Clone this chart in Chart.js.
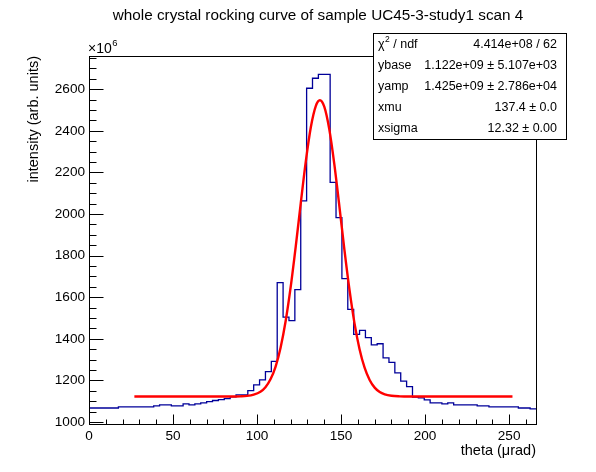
<!DOCTYPE html>
<html>
<head>
<meta charset="utf-8">
<script src="https://cdn.jsdelivr.net/npm/chart.js@4.4.1/dist/chart.umd.min.js"></script>
<style>
html,body{margin:0;padding:0;background:#ffffff;}
canvas{display:block;}
</style>
</head>
<body>
<canvas id="c" width="596" height="472"></canvas>
<script>
// ---- data (intensity in units of 1e6) ----
const binLowEdges = [
  0, 3.5, 7, 10.5, 14, 17.5, 21, 24.5, 28, 31.5,
  35, 38.5, 42, 45.5, 49, 52.5, 56, 59.5, 63, 66.5,
  70, 73.5, 77, 80.5, 84, 87.5, 91, 94.5, 98, 101.5,
  105, 108.5, 112, 115.5, 119, 122.5, 126, 129.5, 133, 136.5,
  140, 143.5, 147, 150.5, 154, 157.5, 161, 164.5, 168, 171.5,
  175, 178.5, 182, 185.5, 189, 192.5, 196, 199.5, 203, 206.5,
  210, 213.5, 217, 220.5, 224, 227.5, 231, 234.5, 238, 241.5,
  245, 248.5, 252, 255.5, 259, 262.5
];
const histUpperEdge = 266;
const binValues = [
  1067, 1067, 1067, 1067, 1067, 1072, 1072, 1072, 1072, 1072,
  1072, 1077, 1082, 1082, 1077, 1077, 1087, 1082, 1087, 1092,
  1098, 1103, 1107, 1112, 1120, 1130, 1130, 1151, 1178, 1202,
  1242, 1291, 1670, 1504, 1487, 1636, 2063, 2605, 2653, 2672,
  2672, 2152, 1983, 1689, 1541, 1421, 1440, 1405, 1371, 1376,
  1308, 1286, 1236, 1196, 1170, 1119, 1116, 1106, 1092, 1092,
  1087, 1092, 1082, 1082, 1082, 1082, 1077, 1077, 1072, 1072,
  1072, 1072, 1072, 1067, 1067, 1063
];
const fitX = [27, 80, 85, 90, 94, 98, 102, 105, 108, 111, 114, 117, 120, 123, 126, 129, 132, 135, 137.4,
              140, 143, 146, 149, 152, 155, 158, 161, 164, 167, 170, 173, 176, 180, 185, 190, 252];
const fitY = [1122, 1122, 1122, 1123, 1125, 1131, 1145, 1167, 1205, 1265, 1357, 1484, 1648, 1842, 2051, 2252, 2417, 2520, 2547,
              2516, 2407, 2239, 2037, 1828, 1636, 1474, 1350, 1261, 1202, 1165, 1144, 1133, 1126, 1123, 1122, 1122];
const xTickLabels = [0, 50, 100, 150, 200, 250];
const yTickLabels = [1000, 1200, 1400, 1600, 1800, 2000, 2200, 2400, 2600];
const statsLabels = ['χ2 / ndf', 'ybase', 'yamp', 'xmu', 'xsigma'];
const statsValues = ['4.414e+08 / 62', '1.122e+09 ± 5.107e+03', '1.425e+09 ± 2.786e+04', '137.4 ± 0.0', '12.32 ± 0.00'];
const titleText = 'whole crystal rocking curve of sample UC45-3-study1 scan 4';
const xTitle = 'theta (μrad)';
const yTitle = 'intensity (arb. units)';

const FONT = '"Liberation Sans", Arial, Helvetica, sans-serif';
Chart.defaults.font.family = FONT;
Chart.defaults.color = '#000';

const histData = binLowEdges.map((x, i) => ({x: x, y: binValues[i]}));
histData.push({x: histUpperEdge, y: binValues[binValues.length - 1]});
const fitData = fitX.map((x, i) => ({x: x, y: fitY[i]}));

const rootStyle = {
  id: 'rootStyle',
  afterDatasetsDraw(chart) {
    const {ctx, chartArea: a, scales: {x, y}} = chart;
    ctx.save();
    ctx.strokeStyle = '#000';
    ctx.lineWidth = 1;
    const L = Math.round(a.left) + 0.5, R = Math.round(a.right) + 0.5;
    const T = Math.round(a.top) + 0.5, B = Math.round(a.bottom) + 0.5;
    ctx.strokeRect(L, T, R - L, B - T);
    ctx.beginPath();
    for (let v = 1000; v <= y.max; v += 50) {
      const py = Math.round(y.getPixelForValue(v)) + 0.5;
      const len = (v % 200 === 0) ? 14 : 7;
      ctx.moveTo(L, py); ctx.lineTo(L + len, py);
    }
    for (let v = 0; v <= x.max; v += 10) {
      const px = Math.round(x.getPixelForValue(v)) + 0.5;
      const len = (v % 50 === 0) ? 10 : 5;
      ctx.moveTo(px, B); ctx.lineTo(px, B - len);
    }
    ctx.stroke();
    ctx.restore();
  },
  afterDraw(chart) {
    const {ctx, chartArea: a} = chart;
    ctx.save();
    ctx.fillStyle = '#000';
    // title
    ctx.font = '15.3px ' + FONT;
    ctx.textAlign = 'center'; ctx.textBaseline = 'middle';
    ctx.fillText(titleText, 318, 16);
    // x title
    ctx.font = '14.5px ' + FONT;
    ctx.textAlign = 'right';
    ctx.fillText(xTitle, a.right, 451);
    // y title
    ctx.save();
    ctx.translate(34, a.top);
    ctx.rotate(-Math.PI / 2);
    ctx.textAlign = 'right'; ctx.textBaseline = 'middle';
    ctx.fillText(yTitle, 0, 0);
    ctx.restore();
    // x10^6
    ctx.font = '14px ' + FONT;
    ctx.textAlign = 'left'; ctx.textBaseline = 'middle';
    ctx.fillText('×10', 88, 49);
    const w10 = ctx.measureText('×10').width;
    ctx.font = '9.5px ' + FONT;
    ctx.fillText('6', 88 + w10 + 0.5, 43);
    // stats box
    const bx = 373.5, by = 33.5, bw = 193, bh = 106;
    ctx.fillStyle = '#fff';
    ctx.fillRect(bx, by, bw, bh);
    ctx.strokeStyle = '#000'; ctx.lineWidth = 1;
    ctx.strokeRect(bx, by, bw, bh);
    ctx.fillStyle = '#000';
    const rowH = bh / statsLabels.length;
    for (let i = 0; i < statsLabels.length; i++) {
      const cy = by + rowH * (i + 0.5);
      ctx.font = '12.5px ' + FONT;
      ctx.textAlign = 'left';
      if (i === 0) {
        ctx.fillText('χ', 378, cy);
        const wc = ctx.measureText('χ').width;
        ctx.font = '8.5px ' + FONT;
        ctx.fillText('2', 378 + wc + 0.5, cy - 4);
        const w2 = ctx.measureText('2').width;
        ctx.font = '12.5px ' + FONT;
        ctx.fillText(' / ndf', 378 + wc + 0.5 + w2, cy);
      } else {
        ctx.fillText(statsLabels[i], 378, cy);
      }
      ctx.textAlign = 'right';
      ctx.fillText(statsValues[i], 557, cy);
    }
    ctx.restore();
  }
};

new Chart(document.getElementById('c'), {
  type: 'line',
  data: {
    datasets: [
      {
        label: 'fit',
        data: fitData,
        borderColor: '#ff0000',
        borderWidth: 2.4,
        pointRadius: 0,
        fill: false,
        cubicInterpolationMode: 'monotone'
      },
      {
        label: 'histogram',
        data: histData,
        borderColor: '#000099',
        borderWidth: 1.3,
        pointRadius: 0,
        fill: false,
        stepped: true
      }
    ]
  },
  options: {
    responsive: false,
    animation: false,
    devicePixelRatio: 1,
    layout: {padding: {left: 0, right: 60, top: 56, bottom: 0}},
    plugins: {legend: {display: false}, tooltip: {enabled: false}, title: {display: false}},
    scales: {
      x: {
        type: 'linear', position: 'bottom', min: 0, max: 266,
        grid: {display: false, drawTicks: false},
        border: {display: false},
        afterBuildTicks: s => { s.ticks = xTickLabels.map(v => ({value: v})); },
        afterFit: s => { s.height = 48; },
        ticks: {autoSkip: false, maxRotation: 0, minRotation: 0, padding: 4,
                font: {size: 13.6}, color: '#000', callback: v => String(v)}
      },
      y: {
        type: 'linear', position: 'left', min: 990, max: 2760,
        grid: {display: false, drawTicks: false},
        border: {display: false},
        afterBuildTicks: s => { s.ticks = yTickLabels.map(v => ({value: v})); },
        afterFit: s => { s.width = 89; },
        ticks: {autoSkip: false, padding: 4, font: {size: 13.6}, color: '#000', callback: v => String(v)}
      }
    }
  },
  plugins: [rootStyle]
});
</script>
</body>
</html>
